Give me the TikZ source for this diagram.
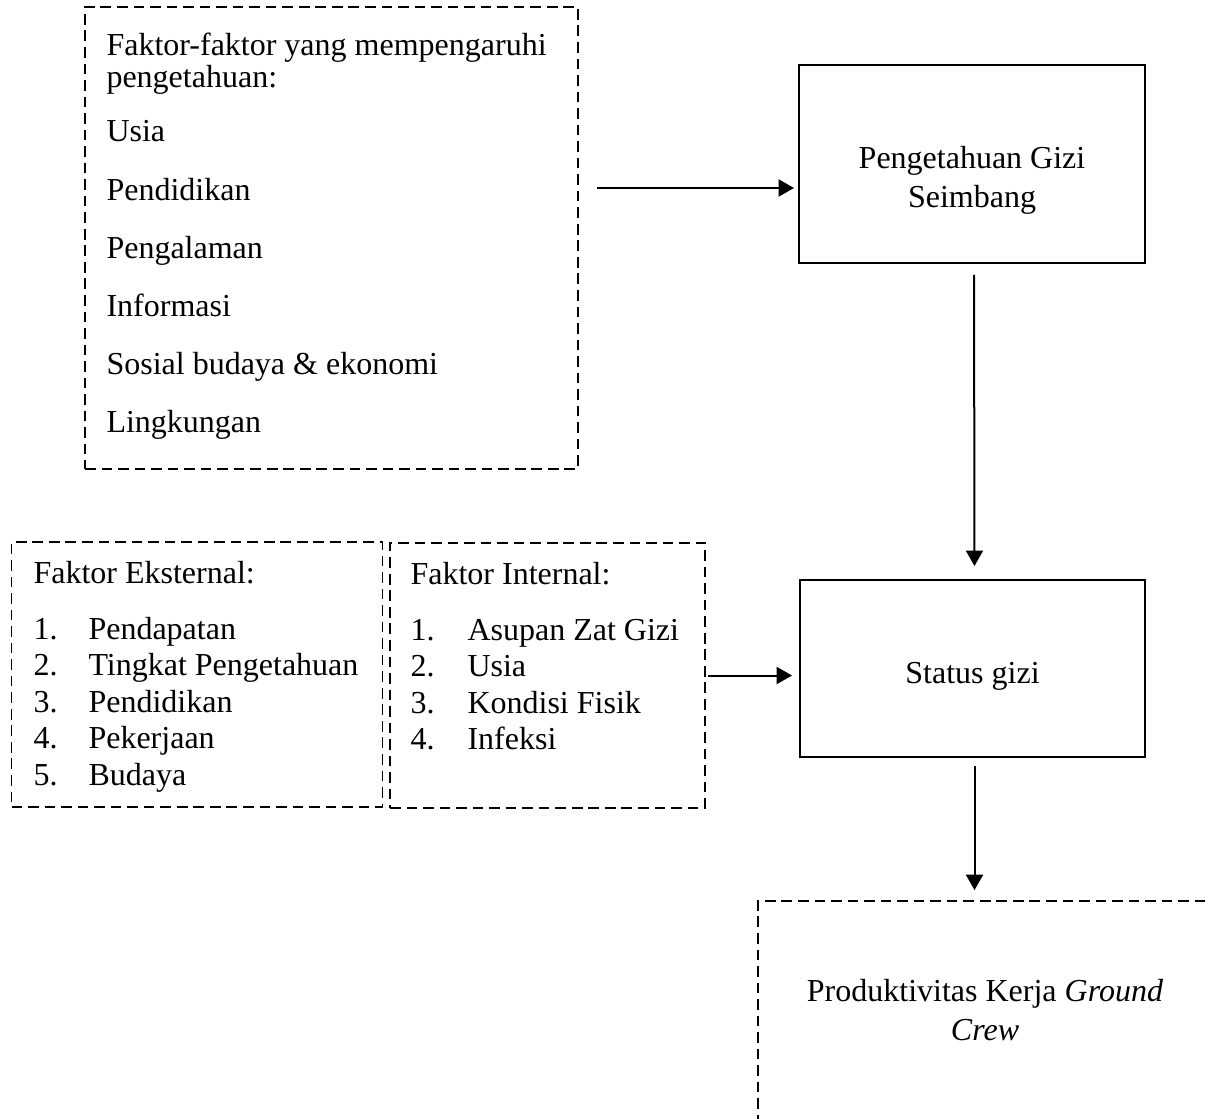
\documentclass[tikz,border=0pt]{standalone}
\usepackage{fontspec}
\setmainfont{Liberation Serif}
\usepackage{tikz}
\usetikzlibrary{positioning}
\usetikzlibrary{calc}
\usetikzlibrary{arrows.meta}

\def\px{0.375pt}
\tikzset{
  dashbox/.style={draw, dash pattern=on 4pt off 2.2pt, line width=0.7pt, inner sep=0pt},
  solidbox/.style={draw, line width=0.75pt, inner sep=0pt},
  txt/.style={inner sep=0pt, anchor=base west, font=\fontsize{12pt}{14pt}\selectfont},
  ctxt/.style={txt, anchor=base},
  arr/.style={-{Triangle[length=5.8pt,width=6.4pt]}, line width=0.75pt},
}

\begin{document}
\begin{tikzpicture}[x=0.375pt, y=-0.375pt]
    \useasboundingbox (0,0) rectangle (1210,1118);
    \clip (0,0) rectangle (1210,1118);

    % kotak
    \node[dashbox, minimum width=493*\px, minimum height=462*\px] (faktor) at (331.5,238) {};
    \node[solidbox, minimum width=346*\px, minimum height=198*\px] (pengetahuan) at (972,164) {};
    \node[dashbox, minimum width=371*\px, minimum height=265*\px] (eksternal) at (197,674.5) {};
    \node[dashbox, minimum width=315*\px, minimum height=265*\px] (internal) at (547.5,675.5) {};
    \node[solidbox, minimum width=345*\px, minimum height=177*\px] (status) at (972.5,668.5) {};
    \node[dashbox, minimum width=454*\px, minimum height=300*\px] (produktivitas) at (985,1051) {};

    % teks faktor pengetahuan
    \node[txt] (judul1) at (106,56) {Faktor-faktor yang mempengaruhi};
    \node[txt] (judul2) at (106,88) {pengetahuan:};
    \foreach \teks [count=\i from 0] in {Usia, Pendidikan, Pengalaman, Informasi, Sosial budaya \& ekonomi, Lingkungan}
        \node[txt] (fa\i) at (106,142+58.2*\i) {\teks};

    % faktor eksternal
    \node[txt] (judulek) at (33,583) {Faktor Eksternal:};
    \foreach \teks [count=\i] in {Pendapatan, Tingkat Pengetahuan, Pendidikan, Pekerjaan, Budaya}{
        \node[txt] (nek\i) at (33,639+36.5*\i-36.5) {\i.};
        \node[txt] (ek\i) at (88,639+36.5*\i-36.5) {\teks};
    }

    % faktor internal
    \node[txt] (judulin) at (410,584) {Faktor Internal:};
    \foreach \teks [count=\i] in {Asupan Zat Gizi, Usia, Kondisi Fisik, Infeksi}{
        \node[txt] (nin\i) at (410,640+36.5*\i-36.5) {\i.};
        \node[txt] (in\i) at (467,640+36.5*\i-36.5) {\teks};
    }

    % teks kotak kanan
    \node[ctxt] (pg1) at (972,169) {Pengetahuan Gizi};
    \node[ctxt] (pg2) at (972,208) {Seimbang};
    \node[ctxt] (sg) at (972.5,683) {Status gizi};
    \node[ctxt] (pk1) at (985,1001) {Produktivitas Kerja \textit{Ground}};
    \node[ctxt] (pk2) at (985,1040) {\textit{Crew}};

    % panah
    \coordinate (fk) at (597,188);
    \draw[arr, shorten >=4*\px] (fk) -- (fk -| pengetahuan.west);
    \draw[arr, shorten <=11*\px, shorten >=13*\px] ([xshift=2*\px]pengetahuan.south) -- ([xshift=2*\px]status.north);
    \draw[arr, shorten <=2*\px, shorten >=7*\px] (internal.east) -- (internal.east -| status.west);
    \draw[arr, shorten <=8*\px, shorten >=10*\px] ([xshift=2*\px]status.south) -- ([xshift=2*\px]status.south |- produktivitas.north);
\end{tikzpicture}
\end{document}
